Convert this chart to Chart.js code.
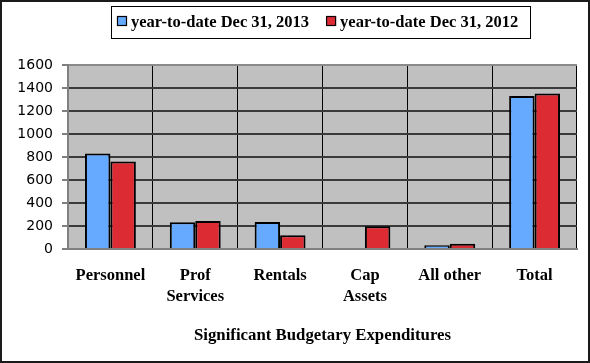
<!DOCTYPE html>
<html>
<head>
<meta charset="utf-8">
<script src="https://cdn.jsdelivr.net/npm/chart.js@4/dist/chart.umd.min.js"></script>
<style>
  html, body { margin: 0; padding: 0; background: #fff; }
  #wrap { width: 590px; height: 363px; position: relative; }
</style>
</head>
<body>
<div id="wrap"><canvas id="c" width="590" height="363"></canvas></div>
<script>
const categories = ['Personnel', ['Prof', 'Services'], 'Rentals', ['Cap', 'Assets'], 'All other', 'Total'];
const series2013 = [830, 232, 234, 0, 32, 1330];
const series2012 = [760, 243, 119, 197, 46, 1353];
const seriesLabels = ['year-to-date Dec 31, 2013', 'year-to-date Dec 31, 2012'];
const yTicks = [0, 200, 400, 600, 800, 1000, 1200, 1400, 1600];
const axisTitle = 'Significant Budgetary Expenditures';

const BLUE = '#66aaff';
const RED = '#dd2b33';

const plotBg = {
  id: 'plotBg',
  beforeDraw(chart) {
    const {ctx, chartArea: a} = chart;
    ctx.save();
    ctx.fillStyle = '#ffffff';
    ctx.fillRect(0, 0, chart.width, chart.height);
    ctx.fillStyle = '#c0c0c0';
    ctx.fillRect(a.left, a.top, a.right - a.left, a.bottom - a.top);
    ctx.restore();
  },
  afterDraw(chart) {
    const {ctx} = chart;
    ctx.save();
    const bx = 111, by = 6, bw = 419, bh = 32;
    ctx.fillStyle = '#fff';
    ctx.fillRect(bx, by, bw, bh);
    ctx.strokeStyle = '#000';
    ctx.lineWidth = 1;
    ctx.strokeRect(bx + 0.5, by + 0.5, bw, bh);
    ctx.font = 'bold 16.5px "Liberation Serif", "Times New Roman", serif';
    ctx.textBaseline = 'alphabetic';
    let x = 117;
    chart.data.datasets.forEach((ds) => {
      ctx.fillStyle = ds.backgroundColor;
      ctx.fillRect(x, 16, 10, 10);
      ctx.strokeStyle = '#000';
      ctx.lineWidth = 1.2;
      ctx.strokeRect(x + 0.5, 16.5, 9, 9);
      ctx.fillStyle = '#000';
      ctx.fillText(ds.label, x + 14, 27);
      x += 14 + ctx.measureText(ds.label).width + 17;
    });
    ctx.strokeStyle = '#1a1a1a';
    ctx.lineWidth = 2;
    ctx.strokeRect(1, 1, 588, 361);
    ctx.restore();
  }
};

new Chart(document.getElementById('c'), {
  type: 'bar',
  data: {
    labels: categories,
    datasets: [
      { label: seriesLabels[0], data: series2013, backgroundColor: BLUE, borderColor: '#000', borderWidth: 2, borderSkipped: 'bottom' },
      { label: seriesLabels[1], data: series2012, backgroundColor: RED, borderColor: '#000', borderWidth: 2, borderSkipped: 'bottom' }
    ]
  },
  options: {
    responsive: false,
    animation: false,
    devicePixelRatio: 1,
    layout: { padding: { top: 65, left: 0, right: 13, bottom: 0 } },
    plugins: { legend: { display: false }, tooltip: { enabled: false } },
    datasets: { bar: { categoryPercentage: 0.6, barPercentage: 1.0 } },
    scales: {
      x: {
        offset: true,
        afterFit(s) { s.height = 114; },
        grid: {
          offset: true,
          drawTicks: false,
          color: (c) => (c.index === categories.length ? '#8a8a8a' : '#000'),
          lineWidth: (c) => (c.index === categories.length ? 2 : 1)
        },
        border: { display: true, color: '#808080', width: 2 },
        ticks: {
          color: '#000',
          padding: 16,
          maxRotation: 0,
          autoSkip: false,
          font: { family: '"Liberation Serif", "Times New Roman", serif', size: 16.5, weight: 'bold', lineHeight: 1.3 }
        },
        title: {
          display: true,
          text: axisTitle,
          color: '#000',
          font: { family: '"Liberation Serif", "Times New Roman", serif', size: 16.8, weight: 'bold', lineHeight: 1.2 },
          padding: { top: 0, bottom: 17 }
        }
      },
      y: {
        min: 0,
        max: 1600,
        afterFit(s) { s.width = 68; },
        afterBuildTicks(s) { s.ticks = yTicks.map(v => ({ value: v })); },
        grid: {
          color: (c) => (c.tick && c.tick.value === 1600 ? '#8a8a8a' : '#3a3a3a'),
          lineWidth: 2,
          tickColor: '#000',
          tickLength: 6,
          tickWidth: 1
        },
        border: { display: true, color: '#808080', width: 2 },
        ticks: {
          color: '#000',
          padding: 9,
          callback: (v) => String(v),
          font: { family: '"DejaVu Sans", Verdana, sans-serif', size: 14 }
        }
      }
    }
  },
  plugins: [plotBg]
});
</script>
</body>
</html>
